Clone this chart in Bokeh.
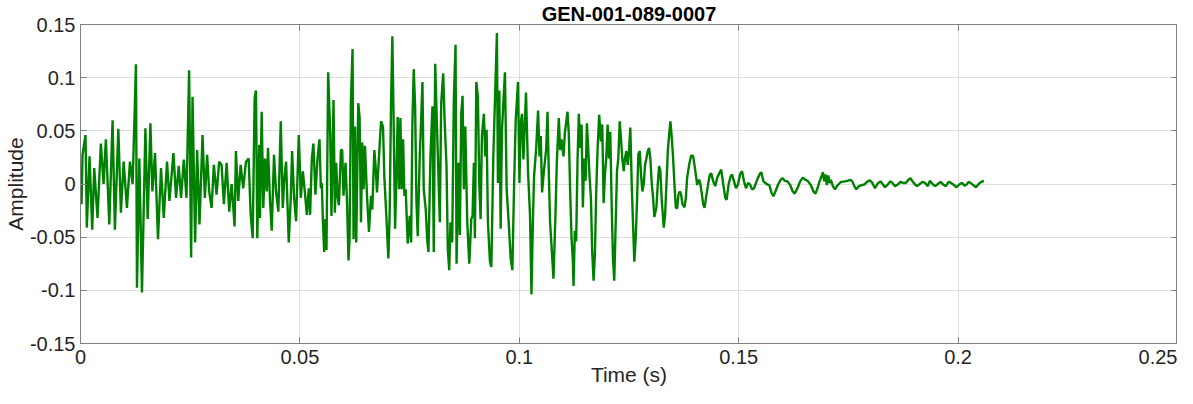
import numpy as np
from bokeh.plotting import figure
from bokeh.models import Range1d, FixedTicker, LinearAxis, CustomJSTickFormatter
from bokeh.embed import file_html
from bokeh.resources import INLINE

TITLE = "GEN-001-089-0007"
X_LABEL = "Time (s)"
Y_LABEL = "Amplitude"

x_ticks = [0, 0.05, 0.1, 0.15, 0.2, 0.25]
x_tick_labels = ["0", "0.05", "0.1", "0.15", "0.2", "0.25"]
y_ticks = [-0.15, -0.1, -0.05, 0, 0.05, 0.1, 0.15]
y_tick_labels = ["-0.15", "-0.1", "-0.05", "0", "0.05", "0.1", "0.15"]

# waveform (time in ms, amplitude)
seg1_t = [0.0, 0.23, 0.46, 1.14, 1.44, 2.06, 2.67, 3.13, 3.88, 4.64,
          5.26, 5.78, 6.56, 7.31, 7.84, 8.62, 9.21, 9.83, 10.58, 11.27,
          11.88, 12.64, 12.87, 13.41, 14.01, 14.79, 15.31, 15.93, 16.38, 16.98,
          17.66, 18.35, 18.97, 19.72, 20.27, 21.18, 21.78, 22.39, 22.92, 23.54,
          24.15, 24.75, 25.21, 25.53, 26.12, 26.58, 27.12, 27.81]
seg1_a = [0.012, -0.019, 0.0275, 0.046, -0.041, 0.026, -0.043, 0.015, -0.032, 0.038,
          0.0, 0.042, -0.038, 0.060, -0.043, 0.052, -0.027, 0.021, -0.0225, 0.021,
          0.0, 0.1125, -0.0975, 0.024, -0.102, 0.0525, -0.033, 0.057, -0.007, 0.029,
          -0.052, 0.015, -0.032, 0.021, -0.016, 0.029, -0.013, 0.017, -0.013, 0.023,
          -0.013, 0.107, -0.069, 0.082, -0.055, 0.032, -0.038, 0.046]

seg2_t = [28.34, 28.86, 29.32, 29.87, 30.39, 31.01, 31.60, 32.15, 32.68, 33.30,
          33.89, 34.44, 35.12, 35.42, 35.95, 36.49, 37.09, 37.71, 38.32, 38.78,
          39.24, 39.69, 39.99, 40.29, 40.75, 40.91, 41.29, 41.66, 42.05, 42.44,
          42.73, 43.19, 43.58, 44.10, 44.56, 45.09, 45.64, 46.09, 46.46, 46.85,
          47.46, 47.92, 48.22, 48.68, 49.13, 49.75, 50.21, 50.66, 51.12, 51.58,
          52.03, 52.33, 52.72, 53.08, 53.54, 54.00, 54.46, 54.78]
seg2_a = [-0.013, 0.0275, -0.007, -0.0225, 0.018, -0.01, 0.021, 0.018, -0.019, 0.020,
          -0.026, 0.0, -0.040, 0.031, -0.016, 0.018, -0.004, 0.021, 0.024, -0.029,
          -0.051, 0.081, 0.088, -0.051, 0.037, -0.032, 0.068, -0.0225, 0.024, -0.007,
          0.034, -0.016, -0.044, 0.0275, -0.007, -0.026, 0.059, -0.0225, 0.006, 0.021,
          -0.055, -0.013, 0.031, -0.013, -0.035, 0.046, -0.013, 0.012, -0.007, -0.029,
          -0.004, -0.029, 0.024, 0.038, -0.01, 0.023, 0.042, -0.004]

seg3_t = [55.00, 55.23, 55.53, 55.83, 56.06, 56.44, 56.90, 57.20, 57.66, 57.97,
          58.27, 58.57, 58.89, 59.35, 59.64, 59.94, 60.40, 60.72, 61.08, 61.31,
          61.63, 62.00, 62.23, 62.55, 62.84, 63.30, 63.60, 63.92, 64.21, 64.51,
          64.83, 65.29, 65.74, 66.20, 66.50, 66.96, 67.25, 67.57, 68.03, 68.49,
          68.94, 69.24, 69.70, 70.16, 70.45, 70.77, 71.07, 71.37, 71.69, 71.98,
          72.28, 72.60, 72.90, 73.20, 73.52, 73.81, 74.11, 74.57, 75.03, 75.35,
          75.64, 75.94, 76.26, 76.56, 76.85, 77.31, 77.63, 77.93, 78.22, 78.68,
          79.00, 79.30, 79.75, 80.21, 80.51, 80.83, 81.13, 81.58, 81.88, 82.20,
          82.66, 82.95, 83.41, 83.71, 84.03]
seg3_a = [0.001, -0.033, -0.064, -0.033, -0.062, 0.105, 0.048, -0.030, 0.079, -0.027,
          0.020, -0.011, -0.020, 0.032, 0.032, -0.011, 0.020, -0.014, -0.072, -0.052,
          0.079, 0.127, -0.052, 0.054, -0.055, 0.076, 0.063, -0.036, 0.039, -0.005,
          0.036, -0.011, -0.045, -0.011, -0.024, 0.032, 0.017, -0.008, 0.026, 0.059,
          0.054, 0.007, -0.030, -0.070, -0.030, 0.076, 0.139, 0.057, -0.042, 0.004,
          0.063, -0.005, 0.062, -0.005, 0.042, -0.011, -0.005, -0.056, -0.030, -0.055,
          0.057, 0.108, 0.073, -0.017, -0.049, 0.026, 0.060, 0.096, -0.005, -0.024,
          -0.052, -0.064, 0.026, 0.073, -0.064, 0.113, 0.070, 0.007, -0.036, 0.076,
          0.104, 0.063, 0.017, -0.061, -0.081]

seg4_t = [84.32, 84.71, 85.08, 85.47, 85.70, 86.16, 86.45, 86.77, 87.07, 87.37,
          87.69, 88.14, 88.60, 89.06, 89.35, 89.65, 89.88, 90.20, 90.56, 90.88,
          91.18, 91.48, 91.93, 92.25, 92.55, 92.85, 93.31, 93.63, 94.08, 94.54,
          94.90, 95.13, 95.45, 95.75, 96.05, 96.73, 97.12, 97.58, 98.04, 98.42,
          98.79, 99.18, 99.71, 100.03, 100.32, 100.62, 100.94, 101.53, 101.99, 102.45,
          102.77, 103.06, 103.36, 103.82, 104.28, 104.60, 104.89, 105.19, 105.65, 106.11,
          106.43, 106.72, 107.02, 107.34, 107.79, 108.25, 108.55, 109.01, 109.30, 109.62,
          110.08, 110.38]
seg4_a = [-0.036, -0.055, 0.079, 0.131, -0.075, 0.020, -0.048, 0.066, 0.083, -0.005,
          0.054, -0.036, -0.075, -0.033, -0.030, 0.020, -0.051, 0.096, 0.082, 0.001,
          -0.033, 0.045, 0.066, 0.026, 0.051, -0.036, -0.073, -0.078, 0.026, 0.091,
          0.142, 0.001, 0.088, -0.042, 0.051, 0.105, -0.005, -0.036, -0.070, -0.081,
          -0.005, 0.060, 0.096, 0.001, 0.057, 0.066, 0.023, 0.086, 0.011, -0.030,
          -0.104, -0.042, 0.007, 0.032, 0.069, 0.026, 0.045, -0.008, 0.014, 0.032,
          0.068, 0.011, -0.036, -0.058, -0.089, -0.027, 0.020, 0.062, 0.032, 0.042,
          0.026, 0.048]

seg5_t = [110.99, 111.29, 111.59, 111.91, 112.20, 112.36, 112.66, 112.96, 113.28, 113.57,
          113.87, 114.19, 114.49, 114.79, 115.11, 115.40, 115.70, 116.02, 116.32, 116.61,
          116.93, 117.23, 117.53, 117.85, 118.21, 118.60, 118.90, 119.22, 119.51, 119.81,
          120.13, 120.43, 120.73, 121.05, 121.34, 121.64, 121.96, 122.26, 122.56, 122.88,
          123.17, 123.47, 123.79, 124.09, 124.39, 124.71, 125.00, 125.30, 125.62, 125.92,
          126.21, 126.53, 126.83, 127.13, 127.45, 127.74, 128.04, 128.36, 128.66, 128.96,
          129.28, 129.57, 129.87, 130.19, 130.49, 130.78, 131.24, 131.56, 131.86, 132.15,
          132.47, 132.93, 133.23, 133.53, 133.85, 134.14, 134.44, 134.76, 135.06, 135.35,
          135.67, 135.97, 136.27, 136.59, 136.88, 137.18, 137.64, 137.96, 138.25, 138.71,
          139.17]
seg5_a = [0.068, 0.046, -0.007, -0.051, -0.072, -0.096, -0.044, -0.054, 0.024, 0.066,
          0.034, 0.056, -0.022, 0.024, 0.003, 0.057, 0.034, 0.006, -0.013, -0.063,
          -0.091, -0.066, -0.007, 0.034, 0.065, 0.040, 0.056, -0.018, 0.009, 0.024,
          0.056, 0.024, 0.049, -0.019, -0.069, -0.091, -0.038, 0.012, 0.024, 0.059,
          0.043, 0.024, 0.012, 0.024, 0.031, 0.018, 0.031, 0.053, 0.0, -0.038,
          -0.073, -0.051, -0.016, 0.028, 0.031, 0.009, -0.007, 0.0, 0.018, 0.024,
          0.031, 0.034, 0.024, 0.0, -0.013, -0.031, -0.022, 0.0, 0.017, 0.012,
          -0.016, -0.041, -0.029, 0.0, 0.031, 0.046, 0.059, 0.043, 0.024, 0.0,
          -0.022, -0.023, -0.010, -0.007, -0.010, -0.019, -0.022, -0.013, 0.006, 0.018,
          0.027]

seg6_t = [139.63, 140.09, 140.54, 140.84, 141.16, 141.62, 141.91, 142.21, 142.67, 143.13,
          143.45, 143.74, 144.20, 144.65, 145.11, 145.57, 146.02, 146.48, 146.94, 147.24,
          147.69, 148.15, 148.47, 148.93, 149.38, 149.84, 150.30, 150.76, 151.21, 151.67,
          152.13, 152.58, 153.04, 153.50, 153.95, 154.41, 154.87, 155.16, 155.62, 156.08,
          156.54, 156.99, 157.45, 157.91, 158.37, 158.98, 159.57, 160.03, 160.49, 161.11,
          161.72, 162.32, 162.78, 163.39, 164.01, 164.60, 165.22, 165.83, 166.43, 167.05,
          167.50, 167.96, 168.42, 168.88, 169.18, 169.50, 169.79, 170.09, 170.41, 170.70,
          171.00, 171.46, 171.92, 172.37, 172.83, 173.29]
seg6_a = [0.026, 0.013, -0.001, 0.004, 0.0025, -0.010, -0.019, -0.0225, -0.010, 0.0025,
          0.009, 0.010, 0.0025, -0.002, 0.006, 0.010, 0.0135, -0.0005, -0.013, -0.015,
          -0.0005, 0.007, 0.009, 0.0025, -0.004, -0.0005, 0.009, 0.012, 0.0025, -0.004,
          0.001, -0.0005, -0.005, -0.004, 0.001, 0.006, 0.010, 0.011, 0.0025, 0.001,
          -0.0005, -0.001, -0.008, -0.0115, -0.007, -0.0005, 0.004, 0.0055, 0.003, 0.0025,
          -0.001, -0.007, -0.009, -0.004, 0.0025, 0.006, 0.004, 0.0025, -0.001, -0.007,
          -0.009, -0.004, 0.0025, 0.007, 0.011, 0.0025, 0.009, -0.001, 0.008, 0.001,
          0.004, -0.002, -0.005, -0.002, 0.0, 0.002]

seg7_t = [173.60, 174.20, 174.82, 175.43, 175.89, 176.35, 176.81, 177.40, 178.02, 178.63,
          179.23, 179.85, 180.46, 181.06, 181.67, 182.29, 182.89, 183.34, 183.96, 184.58,
          185.03, 185.63, 186.24, 186.86, 187.45, 188.07, 188.69, 189.14, 189.60, 190.20,
          190.65, 191.27, 191.89, 192.48, 193.10, 193.56, 194.17, 194.77, 195.38, 196.00,
          196.60, 197.21, 197.83, 198.42, 199.04, 199.66, 200.25, 200.87, 201.48, 201.94,
          202.40, 202.85, 203.45, 204.07, 204.68, 205.28, 205.89]
seg7_a = [0.002, 0.0025, 0.003, 0.004, 0.0025, -0.002, -0.005, -0.002, -0.001, -0.0005,
          0.002, 0.0035, 0.001, -0.004, 0.0005, 0.0025, -0.0005, -0.003, -0.0005, 0.0025,
          0.001, -0.002, -0.0005, 0.002, 0.001, 0.001, 0.004, 0.0055, 0.0025, -0.0005,
          -0.002, 0.0, 0.002, 0.001, -0.002, 0.003, 0.0, -0.002, 0.0, 0.002,
          -0.0005, -0.002, 0.002, 0.001, -0.001, -0.003, -0.0005, 0.001, -0.0015, -0.0005,
          0.002, 0.001, -0.001, -0.003, 0.0, 0.002, 0.003]

time_ms = seg1_t + seg2_t + seg3_t + seg4_t + seg5_t + seg6_t + seg7_t
amplitude = seg1_a + seg2_a + seg3_a + seg4_a + seg5_a + seg6_a + seg7_a
assert len(time_ms) == len(amplitude)
time_s = np.array(time_ms) / 1000.0

FONT = "Liberation Sans"
TXT = "#262626"
AXC = "#808080"

p = figure(width=1177, height=388, output_backend="svg", toolbar_location=None,
           x_range=Range1d(0, 0.25), y_range=Range1d(-0.15, 0.15),
           min_border_left=0, min_border_right=0, min_border_top=0, min_border_bottom=0,
           background_fill_color="white", border_fill_color="white")
p.outline_line_color = AXC
p.outline_line_width = 1

p.title.text = TITLE
p.title.align = "center"
p.title.text_font = FONT
p.title.text_font_size = "20px"
p.title.text_font_style = "bold"
p.title.text_color = "#000000"
p.title.standoff = 0
p.title.offset = 0

for ax, ticks, labels in ((p.xaxis[0], x_ticks, x_tick_labels), (p.yaxis[0], y_ticks, y_tick_labels)):
    ax.ticker = FixedTicker(ticks=ticks)
    ax.major_label_overrides = {t: l for t, l in zip(ticks, labels)}
    ax.major_tick_in = 6
    ax.major_tick_out = 0
    ax.minor_tick_line_color = None
    ax.axis_line_color = AXC
    ax.major_tick_line_color = AXC
    ax.major_label_text_font = FONT
    ax.major_label_text_font_size = "20px"
    ax.major_label_text_color = TXT
    ax.axis_label_text_font = FONT
    ax.axis_label_text_font_size = "21px"
    ax.axis_label_text_font_style = "normal"
    ax.axis_label_text_color = TXT

p.xaxis[0].axis_label = X_LABEL
p.xaxis[0].major_label_standoff = 6
p.xaxis[0].axis_label_standoff = -4
p.yaxis[0].axis_label = Y_LABEL
p.yaxis[0].major_label_standoff = 5
p.yaxis[0].axis_label_standoff = 0

blank = CustomJSTickFormatter(code="return ''")
for side, ticks in (("above", x_ticks), ("right", y_ticks)):
    ax = LinearAxis(ticker=FixedTicker(ticks=ticks), formatter=blank,
                    major_tick_in=6, major_tick_out=0, minor_tick_line_color=None,
                    axis_line_color=AXC, major_tick_line_color=AXC,
                    major_label_standoff=0, major_label_text_font_size="1px")
    p.add_layout(ax, side)

p.xgrid.grid_line_color = "#dfdfdf"
p.ygrid.grid_line_color = "#dfdfdf"
p.xgrid.ticker = FixedTicker(ticks=x_ticks)
p.ygrid.ticker = FixedTicker(ticks=y_ticks)

p.line(time_s, amplitude, line_color="#008000", line_width=2.4)

open("out.html", "w").write(file_html(p, INLINE))
